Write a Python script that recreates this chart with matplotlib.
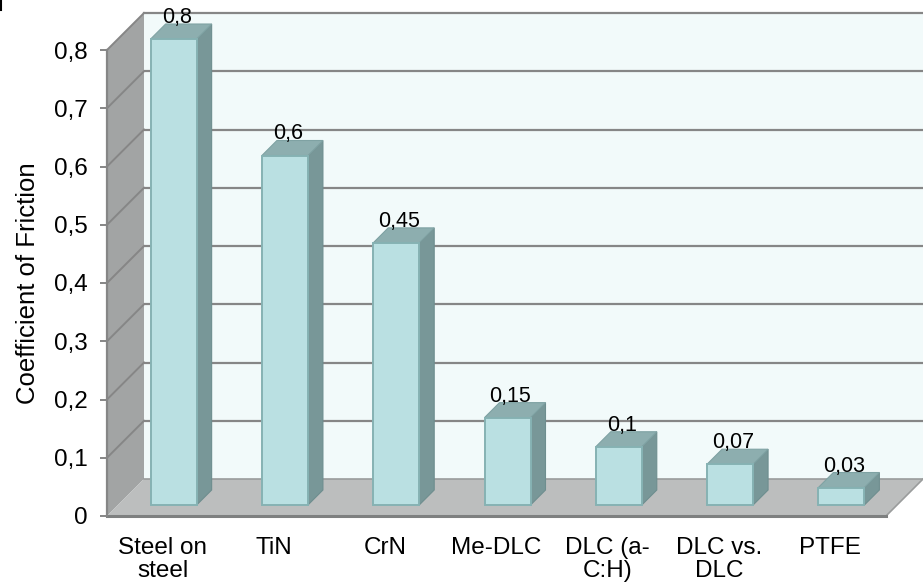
import matplotlib
matplotlib.use("Agg")
import matplotlib.pyplot as plt
from matplotlib.patches import Polygon
from matplotlib.lines import Line2D

plt.rcParams['font.family'] = ['Liberation Sans', 'DejaVu Sans']

categories = ["Steel on\nsteel", "TiN", "CrN", "Me-DLC", "DLC (a-\nC:H)", "DLC vs.\nDLC", "PTFE"]
friction = [0.8, 0.6, 0.45, 0.15, 0.1, 0.07, 0.03]
yticks = [0, 0.1, 0.2, 0.3, 0.4, 0.5, 0.6, 0.7, 0.8]

W, H = 923, 584
fig = plt.figure(figsize=(W / 100, H / 100), dpi=100)
fig.patch.set_facecolor("white")

# front plane of the pseudo-3D box, in pixels
left_px, right_px, base_px, top_px = 107, 886, 516, 50
ax = fig.add_axes([left_px / W, (H - base_px) / H,
                   (right_px - left_px) / W, (base_px - top_px) / H])
n = len(categories)
ymax = 0.8
ax.set_xlim(-0.5, n - 0.5)
ax.set_ylim(0, ymax)
ax.patch.set_visible(False)

px_x = (right_px - left_px) / n          # pixels per category
px_y = (base_px - top_px) / ymax         # pixels per unit value
DX = 37 / px_x                           # full depth offset in data units
DY = 37 / px_y

grid_c = "#868686"
x0, x1 = -0.5, n - 0.5

# back wall
ax.add_patch(Polygon([(x0 + DX, DY), (x1 + DX + 1, DY), (x1 + DX + 1, ymax + DY), (x0 + DX, ymax + DY)],
                     closed=True, facecolor="#F2FAFA", edgecolor="none", clip_on=False, zorder=1))
for v in yticks[1:]:
    ax.add_line(Line2D([x0 + DX, x1 + DX + 1], [v + DY, v + DY], color=grid_c, lw=1.6,
                       clip_on=False, zorder=2))

# left side wall
ax.add_patch(Polygon([(x0, 0), (x0 + DX, DY), (x0 + DX, ymax + DY), (x0, ymax)],
                     closed=True, facecolor="#A2A4A4", edgecolor="none", clip_on=False, zorder=3))
for v in yticks[1:]:
    ax.add_line(Line2D([x0, x0 + DX], [v, v + DY], color=grid_c, lw=1.4, clip_on=False, zorder=4))

# floor
ax.add_patch(Polygon([(x0, 0), (x1, 0), (x1 + DX, DY), (x0 + DX, DY)],
                     closed=True, facecolor="#BCBEBE", edgecolor="none", clip_on=False, zorder=3))
ax.add_line(Line2D([x0 + DX, x1 + DX], [DY, DY], color="#9A9C9C", lw=1.2, clip_on=False, zorder=4))
ax.add_line(Line2D([x1, x1 + DX], [0, DY], color="#9A9C9C", lw=1.2, clip_on=False, zorder=4))
ax.add_line(Line2D([x0, x1], [0, 0], color="#7E8080", lw=2.2, clip_on=False, zorder=4))

# bars: front face, right side and top
bar_w = 46 / px_x
d_front = 11 / 37
d_depth = 15 / 37
for i, v in enumerate(friction):
    bx0 = i - bar_w / 2 + d_front * DX
    bx1 = i + bar_w / 2 + d_front * DX
    by0 = d_front * DY
    by1 = v + by0
    ddx, ddy = d_depth * DX, d_depth * DY
    ax.add_patch(Polygon([(bx1, by0), (bx1 + ddx, by0 + ddy), (bx1 + ddx, by1 + ddy), (bx1, by1)],
                         closed=True, facecolor="#789798", edgecolor="#6E8E8F", lw=0.8,
                         clip_on=False, zorder=5))
    ax.add_patch(Polygon([(bx0, by1), (bx1, by1), (bx1 + ddx, by1 + ddy), (bx0 + ddx, by1 + ddy)],
                         closed=True, facecolor="#8DAEAF", edgecolor="#7FA2A3", lw=0.8,
                         clip_on=False, zorder=5))
    ax.add_patch(Polygon([(bx0, by0), (bx1, by0), (bx1, by1), (bx0, by1)],
                         closed=True, facecolor="#BAE0E2", edgecolor="#86B2B3", lw=1.4,
                         clip_on=False, zorder=6))
    ax.text((bx0 + bx1) / 2 + 3 / px_x, by1 + ddy + 1 / px_y, f"{v:g}".replace(".", ","),
            ha="center", va="baseline", fontsize=15.5, zorder=7)

# axes, ticks and labels
for s in ["top", "right", "bottom"]:
    ax.spines[s].set_visible(False)
ax.spines["left"].set_color(grid_c)
ax.spines["left"].set_linewidth(1.6)
ax.spines["left"].set_zorder(8)
ax.set_yticks(yticks)
ax.set_yticklabels([f"{t:g}".replace(".", ",") for t in yticks])
ax.tick_params(axis="y", length=5, width=1.4, color=grid_c, pad=9, labelsize=17.5)
ax.set_xticks(range(n))
ax.set_xticklabels(categories, linespacing=1.05)
ax.tick_params(axis="x", length=0, pad=15, labelsize=17.5)
ax.set_ylabel("Coefficient of Friction", fontsize=18.5, labelpad=10)

fig.add_artist(Line2D([1 / W, 1 / W], [1, 1 - 10 / H], color="black", lw=1.5))

fig.savefig("out.png", dpi=100)
